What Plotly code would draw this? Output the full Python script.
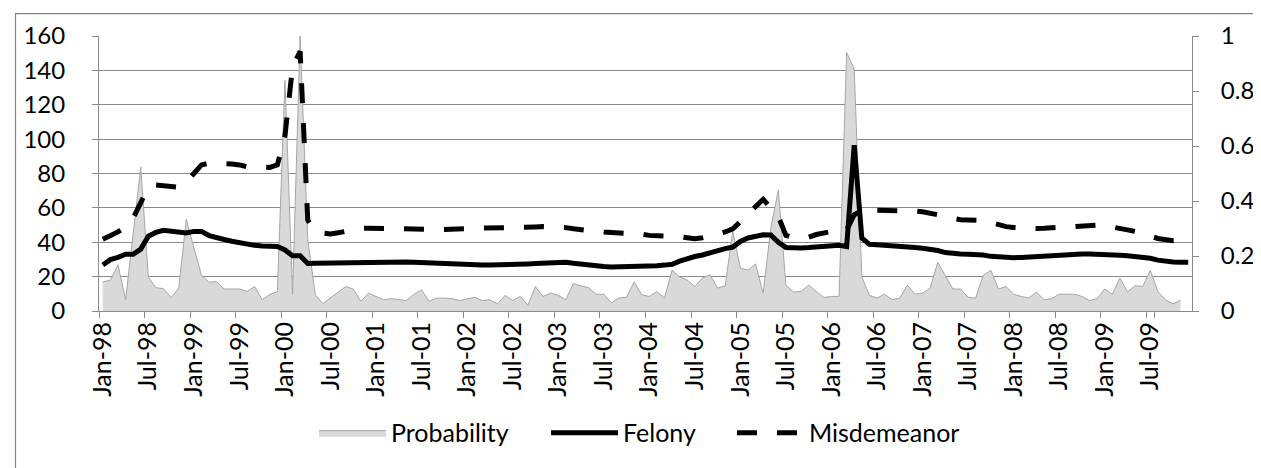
import plotly.graph_objects as go

# ---------------- data ----------------
YEARS = ["98", "99", "00", "01", "02", "03", "04", "05", "06", "07", "08", "09"]
MONTH_NAMES = ["Jan", "Feb", "Mar", "Apr", "May", "Jun",
               "Jul", "Aug", "Sep", "Oct", "Nov", "Dec"]
months = [f"{m}-{y}" for y in YEARS for m in MONTH_NAMES]

TICK_LABELS = ["Jan-98", "Jul-98", "Jan-99", "Jul-99", "Jan-00", "Jul-00",
               "Jan-01", "Jul-01", "Jan-02", "Jul-02", "Jan-03", "Jul-03",
               "Jan-04", "Jul-04", "Jan-05", "Jul-05", "Jan-06", "Jul-06",
               "Jan-07", "Jul-07", "Jan-08", "Jul-08", "Jan-09", "Jul-09"]

probability = [
    0.106, 0.112, 0.168, 0.041, 0.28, 0.523, 0.123, 0.085, 0.081, 0.048, 0.083, 0.333,
    0.23, 0.13, 0.105, 0.107, 0.08, 0.08, 0.08, 0.071, 0.089, 0.041, 0.06, 0.07,
    0.839, 0.061, 1.0, 0.26, 0.059, 0.027, 0.047, 0.069, 0.089, 0.08, 0.035, 0.065,
    0.053, 0.041, 0.045, 0.041, 0.038, 0.061, 0.077, 0.035, 0.047, 0.047, 0.045, 0.038,
    0.045, 0.05, 0.038, 0.041, 0.026, 0.057, 0.038, 0.053, 0.021, 0.089, 0.053, 0.065,
    0.057, 0.041, 0.1, 0.091, 0.085, 0.061, 0.061, 0.03, 0.047, 0.05, 0.106, 0.059,
    0.053, 0.071, 0.047, 0.148, 0.124, 0.112, 0.089, 0.12, 0.132, 0.083, 0.092, 0.29,
    0.156, 0.148, 0.171, 0.065, 0.30, 0.44, 0.094, 0.069, 0.071, 0.094, 0.071, 0.049,
    0.053, 0.053, 0.94, 0.88, 0.124, 0.057, 0.047, 0.061, 0.041, 0.047, 0.094, 0.061,
    0.065, 0.083, 0.177, 0.13, 0.08, 0.08, 0.05, 0.047, 0.13, 0.148, 0.08, 0.089,
    0.061, 0.053, 0.047, 0.069, 0.041, 0.045, 0.061, 0.061, 0.061, 0.053, 0.038, 0.045,
    0.08, 0.061, 0.12, 0.069, 0.092, 0.089, 0.148, 0.071, 0.041, 0.026, 0.039, None,
]

felony = [
    26.8, 29.9, 31.2, 33.0, 33.0, 36.0, 43.5, 45.7, 46.9, 46.3, 46.0, 45.4,
    46.3, 46.3, 43.9, 42.5, 41.6, 40.6, 39.7, 38.9, 38.2, 37.8, 37.8, 37.5,
    35.5, 32.1, 32.1, 27.6, 27.8, 27.9, 28.0, 28.1, 28.3, 28.4, 28.5, 28.5,
    28.6, 28.6, 28.6, 28.6, 28.5, 28.4, 28.2, 27.6, 27.2, 27.0, 26.9, 26.8,
    26.6, 26.7, 26.7, 26.8, 26.8, 26.9, 27.0, 27.2, 27.4, 27.6, 27.9, 28.1,
    28.3, 28.4, 27.8, 27.2, 26.6, 26.2, 25.9, 25.6, 25.6, 25.6, 25.7, 25.9,
    26.1, 26.3, 26.7, 27.2, 29.0, 30.5, 31.7, 32.6, 34.0, 35.5, 36.3, 37.2,
    40.5, 42.5, 43.5, 44.4, 44.2, 40.0, 37.0, 36.5, 36.7, 36.9, 37.2, 37.6,
    38.2, 38.2, 37.5, 96.5, 42.5, 38.8, 38.5, 38.3, 38.0, 37.8, 37.3, 36.9,
    36.5, 36.0, 35.2, 34.0, 33.4, 33.1, 33.0, 33.0, 32.6, 31.8, 31.3, 31.1,
    31.0, 31.2, 31.5, 31.8, 32.1, 32.4, 32.7, 32.9, 33.0, 33.1, 33.1, 33.1,
    33.0, 32.8, 32.5, 32.2, 31.8, 31.4, 30.7, 29.6, 28.9, 28.5, 28.4, 28.4,
]

misdemeanor = [
    41.8, 43.9, 46.0, 49.0, 54.0, 63.0, 72.0, 73.3, 73.0, 72.5, 72.0, 75.0,
    80.0, 85.0, 86.0, 86.0, 86.0, 85.5, 85.0, 84.0, 83.8, 83.5, 83.5, 85.0,
    102.0, 142.0, 151.0, 53.0, 46.3, 45.3, 44.8, 45.5, 46.5, 47.4, 48.0, 48.2,
    48.2, 48.0, 47.8, 47.7, 47.6, 47.6, 47.6, 47.5, 47.3, 47.3, 47.5, 47.6,
    47.8, 48.0, 48.2, 48.2, 48.2, 48.2, 48.2, 48.3, 48.6, 48.9, 49.1, 49.0,
    48.8, 48.5, 47.8, 47.2, 46.8, 46.4, 46.0, 45.7, 45.6, 45.5, 45.3, 44.6,
    44.0, 44.0, 43.9, 43.8, 43.3, 42.6, 42.0, 42.6, 44.0, 44.8, 46.0, 47.8,
    52.0, 56.5, 61.0, 65.0, 60.0, 55.0, 44.0, 42.5, 42.5, 43.0, 44.5, 45.5,
    46.3, 46.5, 47.0, 56.0, 58.5, 58.7, 58.7, 58.7, 58.6, 58.5, 58.3, 58.1,
    57.7, 57.0, 56.0, 54.8, 53.6, 53.1, 52.9, 52.8, 52.6, 51.5, 50.0, 49.1,
    48.6, 48.2, 48.1, 48.0, 48.1, 48.4, 48.8, 49.1, 49.5, 49.9, 50.1, 50.0,
    49.6, 49.0, 48.2, 47.2, 46.3, 45.2, 43.6, 42.2, 41.3, 40.9, 40.8, 40.8,
]

# ---------------- figure ----------------
FONT = "Lato, 'Open Sans', sans-serif"
GRID = "#8a8a8a"
X_TICK_SIZE = 25
Y_TICK_SIZE = 24
LEG_SIZE = 25
W, H = 1261, 468
L, R, T, B = 91, 77, 21, 165
pw, ph = W - L - R, H - T - B


def px_x(px):
    return (px - L) / pw


def px_y(py):
    return (H - B - py) / ph


fig = go.Figure()

fig.add_trace(go.Scatter(
    x=months, y=probability, name="Probability", yaxis="y", legend="legend",
    mode="lines", fill="tozeroy", fillcolor="#d9d9d9",
    line=dict(color="#a6a6a6", width=1), connectgaps=False,
))
fig.add_trace(go.Scatter(
    x=months, y=felony, name="Felony", yaxis="y2", legend="legend2",
    mode="lines", line=dict(color="#000000", width=5),
))
fig.add_trace(go.Scatter(
    x=months, y=misdemeanor, name="Misdemeanor", yaxis="y2", legend="legend3",
    mode="lines", line=dict(color="#000000", width=5, dash="20px,20px"),
))


def leg(xpx):
    return dict(orientation="h", x=px_x(xpx), xanchor="left",
                y=px_y(428), yanchor="middle",
                font=dict(family=FONT, size=LEG_SIZE, color="#000000"),
                itemwidth=67, bgcolor="rgba(0,0,0,0)", borderwidth=0)


fig.update_layout(
    width=W, height=H,
    margin=dict(l=L, r=R, t=T, b=B, pad=0),
    paper_bgcolor="white", plot_bgcolor="white",
    font=dict(family=FONT, size=Y_TICK_SIZE, color="#000000"),
    showlegend=True,
    legend=leg(306),
    legend2=leg(538),
    legend3=leg(724),
    xaxis=dict(
        type="category", categoryorder="array", categoryarray=months,
        range=[-0.5, len(months) - 0.5],
        tickmode="array", tickvals=TICK_LABELS, ticktext=TICK_LABELS,
        tickson="boundaries", ticks="outside", ticklen=6, tickcolor=GRID,
        tickangle=-90, showgrid=False, showline=True, linecolor=GRID,
        linewidth=1, zeroline=False, tickfont=dict(size=X_TICK_SIZE),
    ),
    yaxis=dict(
        side="right", range=[0, 1],
        tickvals=[0, 0.2, 0.4, 0.6, 0.8, 1],
        ticktext=["0", "0.2", "0.4", "0.6", "0.8", "1"],
        ticks="outside", ticklen=6, tickcolor=GRID,
        showgrid=False, showline=True, linecolor=GRID, linewidth=1,
        zeroline=False, ticklabelstandoff=17, tickfont=dict(size=Y_TICK_SIZE),
    ),
    yaxis2=dict(
        side="left", overlaying="y", range=[0, 160], dtick=20, tick0=0,
        ticks="outside", ticklen=6, tickcolor=GRID,
        showgrid=True, gridcolor=GRID, gridwidth=1,
        showline=True, linecolor=GRID, linewidth=1,
        zeroline=False, ticklabelstandoff=22, tickfont=dict(size=Y_TICK_SIZE),
    ),
    shapes=[dict(type="rect", xref="paper", yref="paper",
                 x0=px_x(7.5), x1=px_x(1255.5), y0=px_y(470), y1=px_y(-2),
                 line=dict(color="#868686", width=1.2), fillcolor="rgba(0,0,0,0)",
                 layer="below")],
)

fig.write_html("out.html")
